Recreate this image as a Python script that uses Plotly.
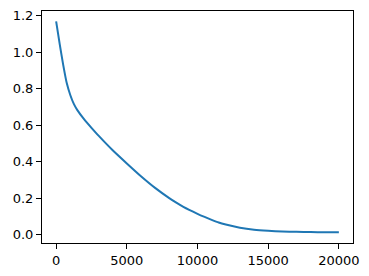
import plotly.graph_objects as go

steps = [0, 250, 500, 750, 1000, 1250, 1500, 2000, 2500, 3000, 4000, 5000, 6000, 7000,
         8000, 8500, 9000, 10000, 10500, 11000, 11500, 12000, 13000, 14000, 15000, 16000,
         17000, 18000, 19000, 20000]
loss = [1.168, 1.045, 0.93, 0.83, 0.765, 0.716, 0.682, 0.63, 0.585, 0.542, 0.462, 0.39,
        0.32, 0.256, 0.2, 0.175, 0.152, 0.114, 0.097, 0.081, 0.066, 0.055, 0.038, 0.027,
        0.021, 0.017, 0.015, 0.014, 0.013, 0.013]

x_ticks = [0, 5000, 10000, 15000, 20000]
y_ticks = [0.0, 0.2, 0.4, 0.6, 0.8, 1.0, 1.2]

fig = go.Figure()
fig.add_trace(go.Scatter(x=steps, y=loss, mode="lines",
                         line=dict(color="#1f77b4", width=2, shape="spline", smoothing=0.4)))

axis_common = dict(showline=True, linecolor="black", linewidth=1, mirror=True,
                   ticks="outside", ticklen=5, tickwidth=1, tickcolor="black",
                   showgrid=False, zeroline=False, automargin=False,
                   tickfont=dict(family="DejaVu Sans", size=13, color="black"))

fig.update_layout(
    width=369, height=276,
    margin=dict(l=42, r=16, t=11, b=33, pad=0),
    paper_bgcolor="white", plot_bgcolor="white",
    showlegend=False,
    xaxis=dict(range=[-1000, 21000], tickvals=x_ticks, tickformat="d", **axis_common),
    yaxis=dict(range=[-0.046, 1.225], tickvals=y_ticks, tickformat=".1f", **axis_common),
)

fig.write_html("out.html")
